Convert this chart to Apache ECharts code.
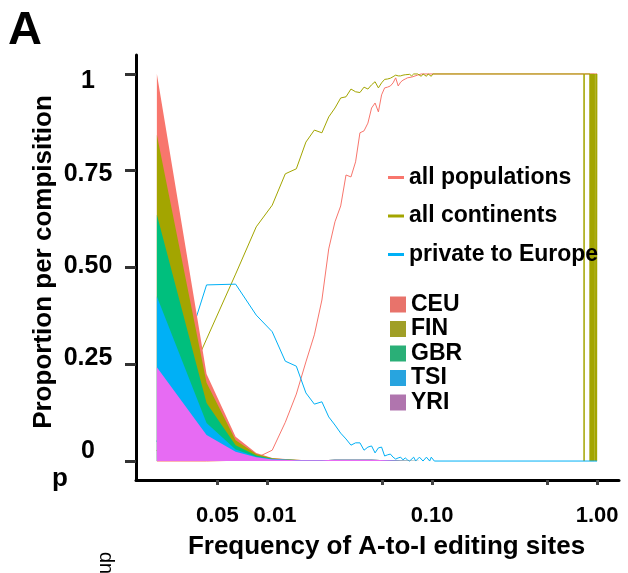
<!DOCTYPE html>
<html><head><meta charset="utf-8">
<script src="https://cdn.jsdelivr.net/npm/echarts@6/dist/echarts.min.js"></script>
<style>html,body{margin:0;padding:0;background:#fff}#c{width:628px;height:573px}</style>
</head><body><div id="c"></div>
<script>
// ---- data ----
const chromosomes = 465; // frequency = allele count / chromosomes
const xTickFreqs = [0.005, 0.01, 0.05, 0.1, 0.5, 1];
const xLabelFreqs = [0.005, 0.01, 0.1, 1];
const xLabelTexts = ['0.05', '0.01', '0.10', '1.00'];
const yTicks = [0, 0.25, 0.5, 0.75, 1];
const yLabelTexts = ['0', '0.25', '0.50', '0.75', '1'];

const allPopK = [1,2,3,4,5,6,7,8,9,10,11,12,13,14,15,16,17,18,19,20,21,22,23,24,25,26,27,28,29,30,31,32,33,35,38,40,465];
const allPopV = [0,0,0.002,0.008,0.028,0.10,0.173,0.256,0.326,0.416,0.548,0.618,0.659,0.739,0.734,0.773,0.848,0.853,0.873,0.912,0.925,0.902,0.946,0.964,0.966,0.969,0.977,0.990,0.969,0.979,0.984,0.987,0.990,0.992,0.997,1,1];

const contK = [1,2,3,4,5,6,7,8,9,10,11,12,13,14,15,16,17,18,19,20,21,22,23,24,25,26,27,28,29,30,31,32,34,35,36,38,40,41,43,44,46,47,387,388,389,421,422,423,425,426,428,429,431,432,434,435,437,438,440,441,443,444,446,447,455,456,458,459,461,462,464,465];
const contV = [0.026,0.315,0.483,0.605,0.661,0.742,0.755,0.824,0.855,0.848,0.889,0.912,0.938,0.941,0.961,0.954,0.952,0.966,0.961,0.972,0.980,0.964,0.977,0.986,0.987,0.989,0.993,0.997,0.995,0.995,0.997,0.998,0.999,0.995,1,1,0.994,1,0.994,1,0.994,1,1,0,1,1,0,1,0,1,0,1,0,1,0,1,0,1,0,1,0,1,0,1,1,0,1,0,1,0,1,1];

const privK = [1,2,3,4,5,6,7,8,9,10,11,12,13,14,15,16,17,18,19,20,21,22,23,24,25,26,27,28,29,30,31,32,33,34,36,37,39,41,43,45,46,48,465];
const privV = [0.05,0.455,0.457,0.377,0.334,0.258,0.245,0.176,0.147,0.153,0.114,0.093,0.072,0.057,0.041,0.047,0.047,0.028,0.036,0.039,0.021,0.034,0.036,0.013,0.016,0.018,0.010,0.005,0.008,0.010,0.003,0.008,0.003,0,0.01,0,0.01,0,0.01,0,0.01,0,0];

const areaK = [1,2,3,4,5,6,7,8,10,12,15,20,25,30,40,60,100,200,465];
const yriV = [0.242,0.067,0.024,0.0095,0.004,0.003,0.002,0.002,0.002,0.003,0.003,0.003,0.002,0.001,0,0,0,0,0];
const tsiV = [0.183,0.031,0.006,0.0015,0.001,0.0005,0.0005,0,0,0,0,0,0,0,0,0,0,0,0];
const gbrV = [0.211,0.052,0.011,0.003,0.001,0.0005,0.0003,0,0,0,0,0,0,0,0,0,0,0,0];
const finV = [0.206,0.052,0.013,0.004,0.001,0.0005,0.0003,0,0,0,0,0,0,0,0,0,0,0,0];
const ceuV = [0.158,0.023,0.009,0.003,0.001,0.0005,0.0003,0,0,0,0,0,0,0,0,0,0,0,0];

// ---- chart ----
const FONT = '"Liberation Sans", Arial, Helvetica, sans-serif';
const lx = f => Math.log10(f);
const pts = (K, V) => K.map((k, i) => [lx(k / chromosomes), V[i]]);

function lineSeries(name, K, V, color) {
  return { type: 'line', name, data: pts(K, V), symbol: 'none', showSymbol: false,
    lineStyle: { color, width: 1 }, itemStyle: { color }, z: 2, animation: false };
}
// stacked areas: bottom-to-top order, cumulative tops computed here
const stackOrder = [['YRI', yriV, '#E76BF3'], ['TSI', tsiV, '#00B0F6'], ['GBR', gbrV, '#00BF7D'], ['FIN', finV, '#A3A500'], ['CEU', ceuV, '#F8766D']];
const running = areaK.map(() => 0);
const areaSeriesList = stackOrder.map(([name, V, color]) => {
  V.forEach((v, i) => { running[i] += v; });
  const tops = running.slice();
  return { type: 'line', name, data: pts(areaK, tops), symbol: 'none', showSymbol: false,
    lineStyle: { width: 0 }, areaStyle: { color, opacity: 1, origin: 0 }, itemStyle: { color }, z: 3, animation: false };
}).reverse(); // draw the tallest first so lower bands sit on top

const chart = echarts.init(document.getElementById('c'), null, { renderer: 'canvas' });
chart.setOption({
  animation: false,
  backgroundColor: '#fff',
  textStyle: { fontFamily: FONT },
  grid: { left: 136, right: 9, top: 55, bottom: 93 },
  xAxis: {
    type: 'value', min: -2.794, max: 0.133,
    splitLine: { show: false },
    axisLine: { onZero: false, lineStyle: { color: '#000', width: 3 } },
    axisTick: { show: true, customValues: xTickFreqs.map(lx), length: 5, lineStyle: { color: '#444', width: 3 } },
    axisLabel: {
      customValues: xLabelFreqs.map(lx), margin: 25,
      fontSize: 22, fontWeight: 'bold', color: '#000', fontFamily: FONT,
      formatter: function (v) {
        let best = 0, d = 1e9;
        xLabelFreqs.forEach((f, i) => { const dd = Math.abs(lx(f) - v); if (dd < d) { d = dd; best = i; } });
        return best === 1 ? '{s|' + xLabelTexts[best] + '}' : xLabelTexts[best];
      },
      rich: { s: { padding: [0, 0, 0, 16], fontSize: 22, fontWeight: 'bold', color: '#000', fontFamily: FONT } }
    },
    name: 'Frequency of A-to-I editing sites', nameLocation: 'middle', nameGap: 54, nameMoveOverlap: false,
    nameTextStyle: { fontSize: 26, fontWeight: 'bold', color: '#000', fontFamily: FONT, padding: [0, 0, 0, 18] }
  },
  yAxis: [
    {
      type: 'value', min: -0.049, max: 1.049, position: 'left',
      splitLine: { show: false },
      axisLine: { show: true, onZero: false, lineStyle: { color: '#000', width: 3 } },
      axisTick: { show: true, customValues: yTicks, length: 11, lineStyle: { color: '#333', width: 3 } },
      axisLabel: { show: false }
    },
    {
      type: 'value', min: -0.0796, max: 1.0715, position: 'left',
      splitLine: { show: false },
      axisLine: { show: false, onZero: false }, axisTick: { show: false },
      axisLabel: {
        customValues: yTicks, margin: 48, align: 'center',
        fontSize: 25, fontWeight: 'bold', color: '#000', fontFamily: FONT,
        formatter: function (v) {
          let best = 0, d = 1e9;
          yTicks.forEach((t, i) => { const dd = Math.abs(t - v); if (dd < d) { d = dd; best = i; } });
          return yLabelTexts[best];
        }
      },
      name: 'Proportion per compisition', nameLocation: 'middle', nameRotate: 90, nameGap: 79, nameMoveOverlap: false,
      nameTextStyle: { fontSize: 26, fontWeight: 'bold', color: '#000', fontFamily: FONT, padding: [0, 0, 0, 11] }
    }
  ],
  legend: [
    {
      data: ['all populations', 'all continents', 'private to Europe'],
      orient: 'vertical', left: 383, top: 161, itemGap: 15.5,
      icon: 'rect', itemWidth: 16, itemHeight: 3, selectedMode: false,
      textStyle: { fontSize: 23, fontWeight: 'bold', color: '#000', fontFamily: FONT }
    },
    {
      data: [
        { name: 'CEU', itemStyle: { color: '#E8736B' } },
        { name: 'FIN', itemStyle: { color: '#A09F27' } },
        { name: 'GBR', itemStyle: { color: '#2AAF77' } },
        { name: 'TSI', itemStyle: { color: '#28A4DF' } },
        { name: 'YRI', itemStyle: { color: '#B075AE' } }
      ],
      orient: 'vertical', left: 385, top: 288, itemGap: 1.5,
      icon: 'rect', itemWidth: 16, itemHeight: 16, selectedMode: false,
      textStyle: { fontSize: 23, fontWeight: 'bold', color: '#000', fontFamily: FONT }
    }
  ],
  graphic: [
    { type: 'text', left: 8, top: 8, style: { text: 'A', font: 'bold 47px ' + FONT, fill: '#000' } },
    { type: 'text', x: 52, y: 466, style: { text: 'p', font: 'bold 26px ' + FONT, fill: '#000' } },
    { type: 'text', x: 95, y: 574, rotation: Math.PI / 2, style: { text: 'up', font: '20px ' + FONT, fill: '#000' } }
  ],
  series: [
    lineSeries('all populations', allPopK, allPopV, '#F8766D'),
    lineSeries('all continents', contK, contV, '#A3A500'),
    lineSeries('private to Europe', privK, privV, '#00B0F6')
  ].concat(areaSeriesList)
});
</script></body></html>
